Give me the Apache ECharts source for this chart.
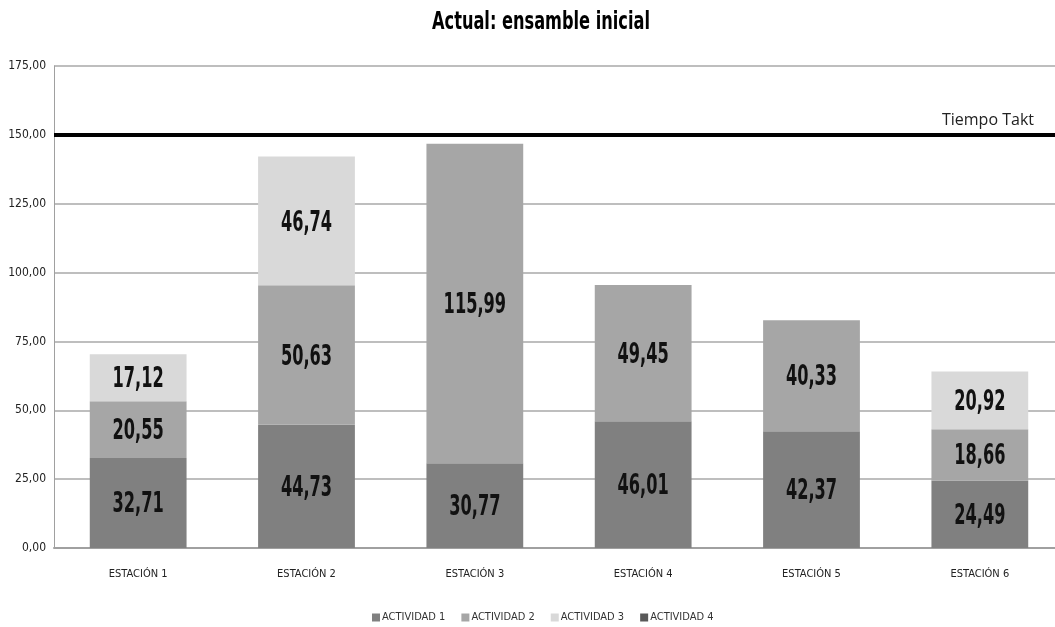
<!DOCTYPE html>
<html><head><meta charset="utf-8">
<script src="https://cdn.jsdelivr.net/npm/echarts@6/dist/echarts.min.js"></script>
<style>html,body{margin:0;padding:0;background:#fff;overflow:hidden;width:1055px;height:627px}#c{width:1064px;height:627px}</style>
</head><body><div id="c"></div>
<script>
const categories = ['ESTACIÓN 1','ESTACIÓN 2','ESTACIÓN 3','ESTACIÓN 4','ESTACIÓN 5','ESTACIÓN 6'];
const actividad1 = [32.71, 44.73, 30.77, 46.01, 42.37, 24.49];
const actividad2 = [20.55, 50.63, 115.99, 49.45, 40.33, 18.66];
const actividad3 = [17.12, 46.74, 0, 0, 0, 20.92];
const actividad4 = [0, 0, 0, 0, 0, 0];
const tiempoTakt = 150;
const seriesNames = ['ACTIVIDAD 1','ACTIVIDAD 2','ACTIVIDAD 3','ACTIVIDAD 4'];
const colors = ['#808080','#a6a6a6','#d9d9d9','#595959'];
const FONT = '"DejaVu Sans Condensed","DejaVu Sans",sans-serif';
const fmt = v => v.toFixed(2).replace('.', ',');

const chart = echarts.init(document.getElementById('c'));
const datasets = [actividad1, actividad2, actividad3, actividad4];
const series = datasets.map((d, i) => ({
  name: seriesNames[i],
  type: 'bar',
  stack: 'total',
  barWidth: '57.5%',
  data: d.map(v => v === 0 ? null : v),
  itemStyle: { color: colors[i] }
}));
series[0].markLine = {
  symbol: 'none', silent: true,
  lineStyle: { color: '#000', width: 4, type: 'solid' },
  label: { show: true, position: 'insideEndTop', formatter: 'Tiempo Takt', color: '#222', fontSize: 16, fontFamily: '"Open Sans",sans-serif', distance: [30, 6] },
  data: [{ yAxis: tiempoTakt }]
};
// segment label positions derived from the stacked data
const labelRows = [];
categories.forEach((c, j) => {
  let base = 0;
  datasets.forEach(d => {
    if (d[j] > 0) labelRows.push([j, base, d[j]]);
    base += d[j];
  });
});
series.push({
  type: 'custom', name: 'labels', silent: true, z: 10,
  data: labelRows,
  renderItem: (params, api) => {
    const p = api.coord([api.value(0), api.value(1) + api.value(2) / 2]);
    return { type: 'text', x: p[0], y: p[1] + 2, scaleX: 0.62,
      style: { text: fmt(api.value(2)), font: 'bold 29px "DejaVu Sans Condensed","DejaVu Sans",sans-serif',
        fill: '#111', align: 'center', verticalAlign: 'middle' } };
  }
});
chart.setOption({
  animation: false,
  graphic: [{ type: 'text', x: 541, y: 22, scaleX: 0.72,
    style: { text: 'Actual: ensamble inicial', font: 'bold 25px "DejaVu Sans Condensed","DejaVu Sans",sans-serif',
      fill: '#000', align: 'center', verticalAlign: 'middle' } }],
  grid: { left: 54, right: 0, top: 66, bottom: 79 },
  legend: { bottom: -1, left: 367, itemWidth: 8, itemHeight: 8, itemGap: 16,
    icon: 'rect', textStyle: { fontSize: 11, color: '#333', fontFamily: FONT, padding: [0,0,0,-3] },
    data: seriesNames },
  xAxis: { type: 'category', data: categories,
    axisLine: { lineStyle: { color: '#a0a0a0', width: 2 } }, axisTick: { show: false },
    axisLabel: { fontSize: 11, color: '#222', fontFamily: FONT, margin: 21 } },
  yAxis: { type: 'value', min: 0, max: 175, interval: 25,
    axisLine: { show: true, lineStyle: { color: '#a0a0a0', width: 1 } },
    splitLine: { lineStyle: { color: '#a8a8a8', width: 1.5 } },
    axisLabel: { fontSize: 12, color: '#222', fontFamily: FONT, margin: 8, formatter: v => fmt(v) } },
  series
});
</script></body></html>
